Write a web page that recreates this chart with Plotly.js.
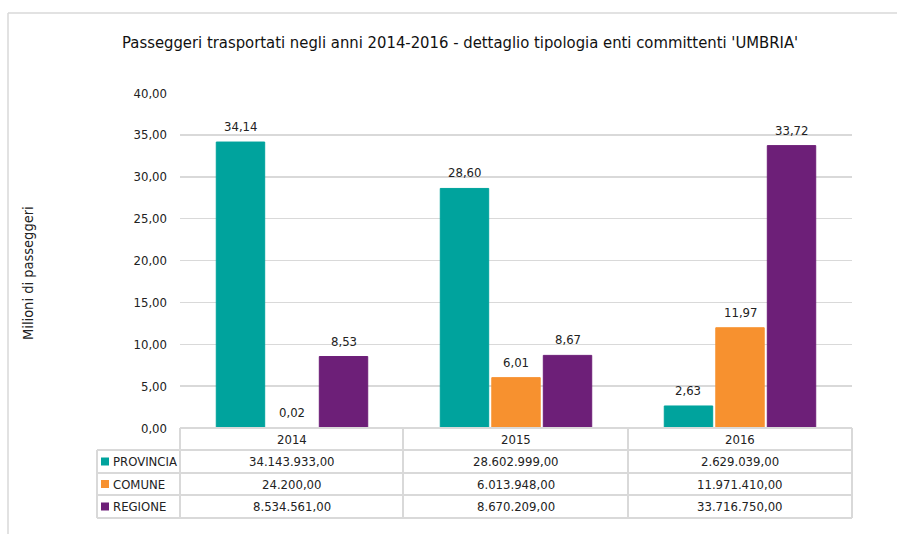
<!DOCTYPE html>
<html>
<head>
<meta charset="utf-8">
<script src="https://cdn.plot.ly/plotly-3.0.1.min.js"></script>
<style>html,body{margin:0;padding:0;background:#fff;}#chart{width:897px;height:534px;}</style>
</head>
<body>
<div id="chart"></div>
<script>
// ---- data ----
const years = ['2014', '2015', '2016'];
const seriesNames = ['PROVINCIA', 'COMUNE', 'REGIONE'];
const provincia = [34143933.00, 28602999.00, 2629039.00];
const comune = [24200.00, 6013948.00, 11971410.00];
const regione = [8534561.00, 8670209.00, 33716750.00];
const yTickVals = [0, 5, 10, 15, 20, 25, 30, 35, 40];

// ---- styles ----
const colors = ['#00A39D', '#F7912F', '#6D1F78'];
const FONT = '"DejaVu Sans Condensed", "Liberation Sans Narrow", sans-serif';
const LINE = '#d9d9d9';
const BARGAP = 0.31;

const W = 897, H = 534;
const L = 180, R = 852, T = 93, B = 428;
const X = px => (px - L) / (R - L);
const Y = py => (B - py) / (B - T);

const raw = [provincia, comune, regione];
const fmt = v => {
  const parts = v.toFixed(2).split('.');
  const intPart = parts[0].replace(/\B(?=(\d{3})+(?!\d))/g, '.');
  return intPart + ',' + parts[1];
};

const traces = raw.map((arr, i) => ({
  type: 'bar',
  name: seriesNames[i],
  x: years,
  y: arr.map(v => v / 1e6),
  marker: {color: colors[i], line: {color: colors[i], width: 1}},
  hoverinfo: 'skip'
}));

const shapes = [];
const annotations = [];

// value labels above bars
const slot = (1 - BARGAP) / raw.length;
raw.forEach((arr, i) => {
  arr.forEach((v, j) => {
    const m = v / 1e6;
    annotations.push({xref: 'x', yref: 'y', x: j + (i - (raw.length - 1) / 2) * slot, y: m,
      text: m.toFixed(2).replace('.', ','), showarrow: false, xanchor: 'center', yanchor: 'bottom', yshift: 6,
      font: {family: FONT, size: 13, color: '#222'}});
  });
});

// outer frame
shapes.push({type: 'line', xref: 'paper', yref: 'paper', x0: X(8), x1: X(W + 5), y0: Y(13), y1: Y(13), line: {color: LINE, width: 1.5}});
shapes.push({type: 'line', xref: 'paper', yref: 'paper', x0: X(8), x1: X(8), y0: Y(13), y1: Y(H + 5), line: {color: LINE, width: 1.5}});

// table lines
const rowsY = [450, 473, 495, 518];
const colsX = [180, 403, 628, 852];
shapes.push({type: 'line', xref: 'paper', yref: 'paper', x0: X(180), x1: X(852), y0: Y(428), y1: Y(428), line: {color: LINE, width: 2}});
rowsY.forEach(py => shapes.push({type: 'line', xref: 'paper', yref: 'paper', x0: X(97), x1: X(852), y0: Y(py), y1: Y(py), line: {color: LINE, width: 2}}));
colsX.forEach(px => shapes.push({type: 'line', xref: 'paper', yref: 'paper', x0: X(px), x1: X(px), y0: Y(428), y1: Y(518), line: {color: LINE, width: 2}}));
shapes.push({type: 'line', xref: 'paper', yref: 'paper', x0: X(97), x1: X(97), y0: Y(450), y1: Y(518), line: {color: LINE, width: 2}});

// header (years)
years.forEach((yr, j) => {
  annotations.push({xref: 'x', yref: 'paper', x: j, y: Y(439), text: yr, showarrow: false,
    xanchor: 'center', yanchor: 'middle', font: {family: FONT, size: 13, color: '#222'}});
});

// rows
seriesNames.forEach((nm, i) => {
  const cy = (rowsY[i] + rowsY[i + 1]) / 2;
  shapes.push({type: 'rect', xref: 'paper', yref: 'paper', x0: X(101), x1: X(109), y0: Y(cy - 4), y1: Y(cy + 4),
    fillcolor: colors[i], line: {width: 0}});
  annotations.push({xref: 'paper', yref: 'paper', x: X(111), y: Y(cy), text: nm, showarrow: false,
    xanchor: 'left', yanchor: 'middle', font: {family: FONT, size: 13, color: '#222'}});
  years.forEach((yr, j) => {
    annotations.push({xref: 'x', yref: 'paper', x: j, y: Y(cy), text: fmt(raw[i][j]), showarrow: false,
      xanchor: 'center', yanchor: 'middle', font: {family: FONT, size: 13, color: '#222'}});
  });
});

// y-axis title
annotations.push({xref: 'paper', yref: 'paper', x: X(28), y: Y(273), text: 'Milioni di passeggeri', textangle: -90,
  showarrow: false, xanchor: 'center', yanchor: 'middle', font: {family: FONT, size: 14.5, color: '#222'}});

const layout = {
  width: W, height: H,
  margin: {l: L, r: W - R, t: T, b: H - B, pad: 0},
  paper_bgcolor: '#fff', plot_bgcolor: '#fff',
  separators: ',.',
  showlegend: false,
  barmode: 'group',
  bargap: BARGAP,
  bargroupgap: 0.06,
  title: {text: "Passeggeri trasportati negli anni 2014-2016 - dettaglio tipologia enti committenti 'UMBRIA'",
    font: {family: FONT, size: 16.5, color: '#111'}, x: 0.513, xanchor: 'center', y: 1 - 42 / H, yanchor: 'middle'},
  xaxis: {type: 'category', range: [-0.5, 2.5], showticklabels: false, showgrid: false, zeroline: false, showline: false, ticks: ''},
  yaxis: {range: [0, 40], tickvals: yTickVals, tickformat: '.2f', showgrid: true, gridcolor: LINE, gridwidth: 1.5,
    zeroline: false, showline: false, ticks: '', ticklabelstandoff: 12,
    tickfont: {family: FONT, size: 13, color: '#222'}},
  shapes: shapes,
  annotations: annotations
};

Plotly.newPlot('chart', traces, layout, {displayModeBar: false, staticPlot: true});
</script>
</body>
</html>
